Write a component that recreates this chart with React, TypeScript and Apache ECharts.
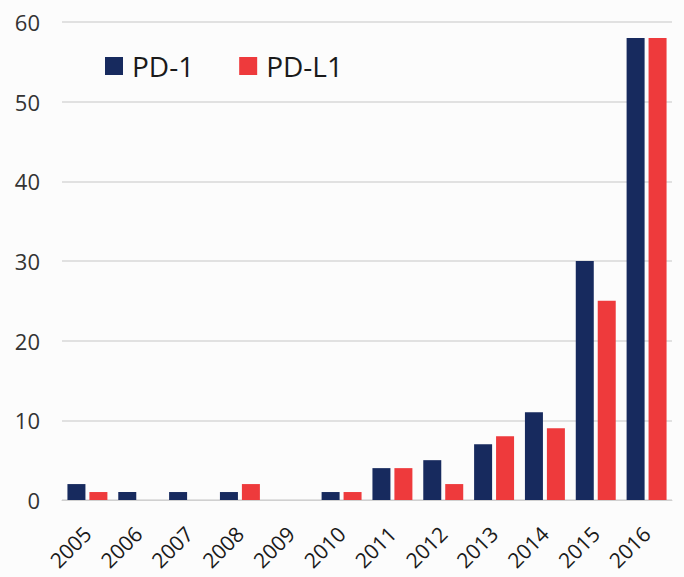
import React, { useEffect, useRef } from "react";
import * as echarts from "echarts";

const years = ["2005", "2006", "2007", "2008", "2009", "2010", "2011", "2012", "2013", "2014", "2015", "2016"];
const pd1 = [2, 1, 1, 1, 0, 1, 4, 5, 7, 11, 30, 58];
const pdl1 = [1, 0, 0, 2, 0, 1, 4, 2, 8, 9, 25, 58];
const yTicks = [0, 10, 20, 30, 40, 50, 60];

const FONT = "'Open Sans', 'Liberation Sans', sans-serif";

export default function App() {
  const ref = useRef<HTMLDivElement>(null);
  useEffect(() => {
    document.body.style.margin = "0";
    document.body.style.background = "#fcfcfc";
    if (!ref.current) return;
    const chart = echarts.init(ref.current, undefined, { renderer: "svg" });
    chart.setOption({
      animation: false,
      backgroundColor: "#fcfcfc",
      legend: {
        left: 100,
        top: 47,
        itemWidth: 18,
        itemHeight: 18,
        itemGap: 45,
        icon: "rect",
        textStyle: { fontSize: 28, color: "#1a1a1a", fontFamily: FONT, padding: [0, 0, 0, 4] },
        data: ["PD-1", "PD-L1"],
      },
      grid: { left: 62, right: 12, top: 22, bottom: 77, containLabel: false, outerBoundsMode: "none" },
      xAxis: {
        type: "category",
        data: years,
        axisLine: { show: true, lineStyle: { color: "#d0d0d0", width: 1 } },
        axisTick: { show: false },
        axisLabel: {
          rotate: 45,
          fontSize: 21,
          color: "#1a1a1a",
          fontFamily: FONT,
          margin: 30,
          interval: 0,
        },
      },
      yAxis: {
        type: "value",
        min: yTicks[0],
        max: yTicks[yTicks.length - 1],
        interval: 10,
        axisLine: { show: false },
        axisTick: { show: false },
        axisLabel: { fontSize: 22, color: "#333", fontFamily: FONT, margin: 22 },
        splitLine: { lineStyle: { color: "#d9d9d9", width: 1.5 } },
      },
      series: [
        {
          name: "PD-1",
          type: "bar",
          data: pd1,
          barWidth: 18,
          barGap: "22%",
          itemStyle: { color: "#172a5e" },
        },
        {
          name: "PD-L1",
          type: "bar",
          data: pdl1,
          barWidth: 18,
          itemStyle: { color: "#ee3a3c" },
        },
      ],
    });
    return () => chart.dispose();
  }, []);
  return <div ref={ref} style={{ width: 684, height: 577 }} />;
}
